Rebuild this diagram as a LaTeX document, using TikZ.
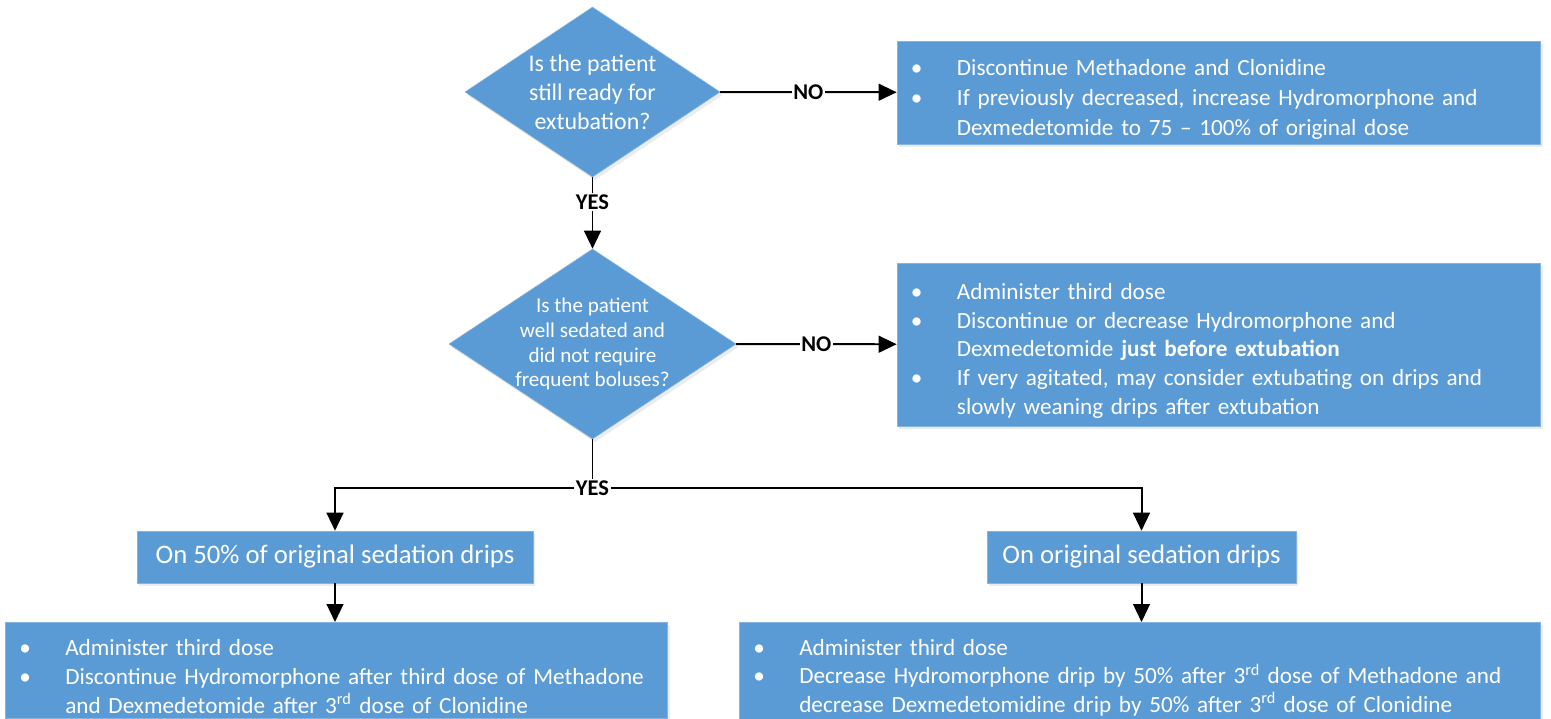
\documentclass[tikz,border=0pt]{standalone}
\usepackage{fontspec}
\setmainfont{Carlito}
\usetikzlibrary{shapes.geometric, arrows.meta, shadows}
\definecolor{boxblue}{HTML}{5B9BD5}
\newcommand{\blt}[1]{\par\hangindent=1.15cm\hangafter=1\noindent\makebox[1.15cm][l]{\textbullet}#1\par}

\begin{document}
\begin{tikzpicture}[x=0.025cm, y=-0.025cm,
    box/.style={rectangle, fill=boxblue, draw=boxblue!75!white, text=white, font=\fontsize{16.5}{20.5}\selectfont, drop shadow={opacity=0.15, shadow xshift=0.6mm, shadow yshift=-0.8mm}},
    list/.style={box, align=left, inner xsep=0.35cm, inner ysep=0.1cm},
    decision/.style={box, diamond, shape aspect=1.5, align=center, inner sep=-0.3cm},
    answer/.style={fill=white, inner sep=1pt, font=\fontsize{16}{18}\bfseries\selectfont},
    flow/.style={-{Triangle[length=0.45cm, width=0.42cm]}, line width=1.4pt}]
    \useasboundingbox (0, 0) rectangle (1551, 718);

    %Nodes
    \node[decision, minimum width=6.375cm, minimum height=4.25cm, font=\fontsize{17}{20.5}\selectfont] at (592.5, 92) (ready) {Is the patient\\still ready for\\extubation?};
    \node[list, text width=15.375cm, minimum height=2.375cm, font=\fontsize{16.5}{21.5}\selectfont] at (1218.5, 92.5) (stop) {\blt{Discontinue Methadone and Clonidine}\blt{If previously decreased, increase Hydromorphone and\newline Dexmedetomide to 75 -- 100\% of original dose}};

    \node[decision, minimum width=7.175cm, minimum height=4.75cm, font=\fontsize{15}{17.7}\selectfont] at (592.5, 344) (sedated) {Is the patient\\well sedated and\\did not require\\frequent boluses?};
    \node[list, text width=15.375cm, minimum height=4.075cm] at (1218.5, 344.5) (wean) {\blt{Administer third dose}\blt{Discontinue or decrease Hydromorphone and\newline Dexmedetomide \textbf{just before extubation}}\blt{If very agitated, may consider extubating on drips and\newline slowly weaning drips after extubation}};

    \node[answer] at (592.5, 488) (yes) {YES};

    \node[box, minimum width=9.9cm, minimum height=1.3cm, font=\fontsize{19}{22}\selectfont] at (335, 557) (half) {On 50\% of original sedation drips};
    \node[box, minimum width=7.725cm, minimum height=1.3cm, font=\fontsize{19}{22}\selectfont] at (1141.5, 557) (full) {On original sedation drips};

    \node[list, text width=15.85cm, minimum height=2.4cm, anchor=north west] at (5, 622) (halfplan) {\blt{Administer third dose}\blt{Discontinue Hydromorphone after third dose of Methadone\newline and Dexmedetomide after 3\textsuperscript{rd} dose of Clonidine}};
    \node[list, text width=19.325cm, minimum height=2.4cm, anchor=north west] at (739, 622) (fullplan) {\blt{Administer third dose}\blt{Decrease Hydromorphone drip by 50\% after 3\textsuperscript{rd} dose of Methadone and\newline decrease Dexmedetomidine drip by 50\% after 3\textsuperscript{rd} dose of Clonidine}};

    %Lines
    \draw[flow] (ready) -- (stop) node [answer, midway] (no1) {NO};
    \draw[flow] (ready) -- (sedated) node [answer, pos=0.35] (yes1) {YES};
    \draw[flow] (sedated) -- (wean) node [answer, midway] (no2) {NO};
    \draw[line width=1.4pt] (sedated) -- (yes);
    \draw[flow] (yes) -| (half);
    \draw[flow] (yes) -| (full);
    \draw[flow] (half.south) -- (half.south |- halfplan.north);
    \draw[flow] (full.south) -- (full.south |- fullplan.north);

\end{tikzpicture}
\end{document}
